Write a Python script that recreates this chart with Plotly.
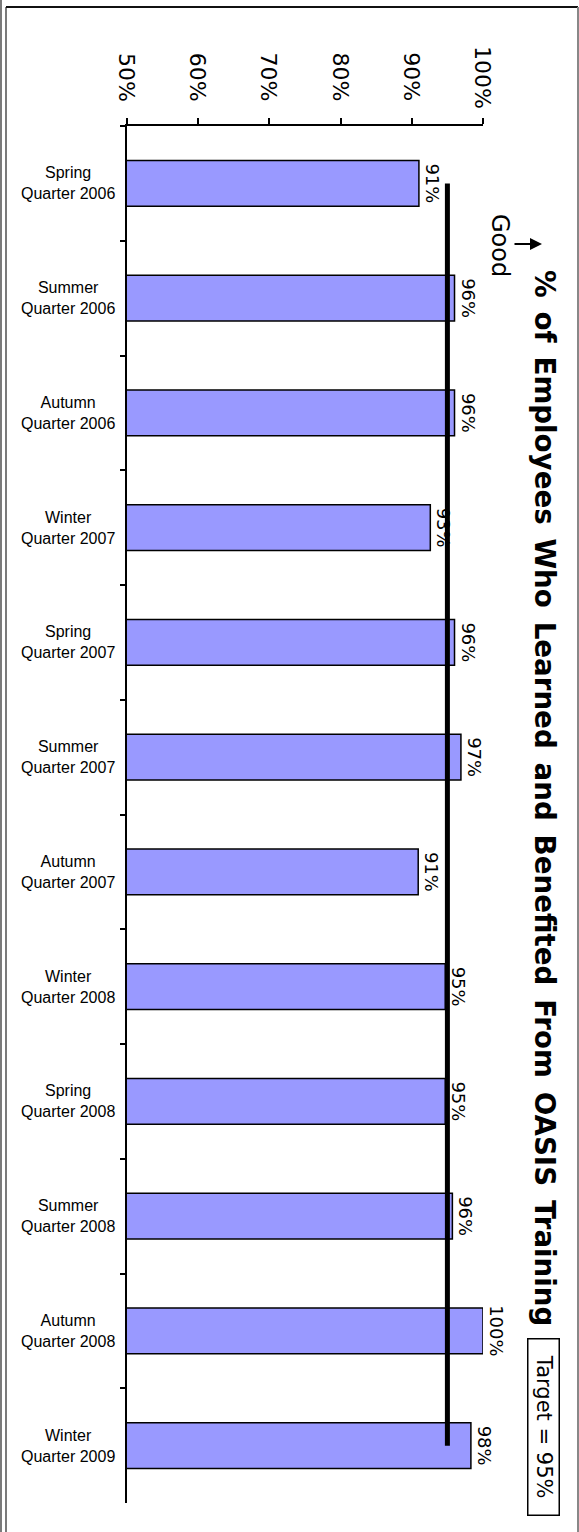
import plotly.graph_objects as go

# ---- data ----
quarters = ["Spring Quarter 2006", "Summer Quarter 2006", "Autumn Quarter 2006",
            "Winter Quarter 2007", "Spring Quarter 2007", "Summer Quarter 2007",
            "Autumn Quarter 2007", "Winter Quarter 2008", "Spring Quarter 2008",
            "Summer Quarter 2008", "Autumn Quarter 2008", "Winter Quarter 2009"]
values = [0.91, 0.96, 0.96, 0.926, 0.96, 0.969, 0.909, 0.947, 0.947, 0.957, 1.00, 0.983]
value_labels = ["91%", "96%", "96%", "93%", "96%", "97%", "91%", "95%", "95%", "96%", "100%", "98%"]
target = 0.95
axis_ticks = [0.5, 0.6, 0.7, 0.8, 0.9, 1.0]
axis_tick_labels = ["50%", "60%", "70%", "80%", "90%", "100%"]
title_text = "% of Employees Who Learned and Benefited From OASIS Training"
target_text = "Target = 95%"

# ---- layout geometry (pixels) ----
W, H = 579, 1532
L, R, T, B = 127, 96, 126, 29
PW, PH = W - L - R, H - T - B


def px(x):
    return (x - L) / PW


def py(y):
    return 1 - (y - T) / PH


fig = go.Figure()

fig.add_trace(go.Bar(
    y=quarters, x=values, orientation="h",
    marker=dict(color="#9999FF", line=dict(color="black", width=1.5)),
    text=value_labels, textposition="outside", textangle=90,
    textfont=dict(family="DejaVu Sans", size=18, color="black"),
    constraintext="none", cliponaxis=False, hoverinfo="skip",
))

fig.add_trace(go.Scatter(
    x=[target, target], y=[quarters[0], quarters[-1]], mode="lines",
    line=dict(color="black", width=5), cliponaxis=False, hoverinfo="skip",
))

annotations = []
# category labels (centered, two lines)
for q in quarters:
    annotations.append(dict(
        x=px(68), xref="paper", y=q, yref="y",
        text=q.replace(" Quarter", "<br>Quarter"), showarrow=False,
        xanchor="center", yanchor="middle", align="center",
        font=dict(family="Liberation Sans", size=16, color="black"),
    ))
# value axis tick labels (rotated, centred)
for v, lab in zip(axis_ticks, axis_tick_labels):
    annotations.append(dict(
        x=v, xref="x", y=py(77), yref="paper", text=lab, showarrow=False,
        textangle=90, xanchor="center", yanchor="middle",
        font=dict(family="DejaVu Sans", size=22, color="black"),
    ))
# title (slightly wider word spacing, as in the reference)
annotations.append(dict(
    x=px(545), xref="paper", y=py(798), yref="paper",
    text="<b>" + title_text.replace(" ", "\u2002") + "</b>", showarrow=False, textangle=90,
    xanchor="center", yanchor="middle",
    font=dict(family="DejaVu Sans", size=27.7, color="black"),
))
# Good + arrow
annotations.append(dict(
    x=px(500), xref="paper", y=py(245), yref="paper", text="Good",
    showarrow=False, textangle=90, xanchor="center", yanchor="middle",
    font=dict(family="DejaVu Sans", size=24, color="black"),
))
annotations.append(dict(
    x=px(542), xref="paper", y=py(244), yref="paper", text="",
    showarrow=True, ax=-29, ay=0, arrowhead=2, arrowsize=1.2, arrowwidth=2,
    arrowcolor="black",
))
# target box
annotations.append(dict(
    x=px(544), xref="paper", y=py(1427), yref="paper",
    text="\u00a0\u00a0" + target_text + "\u00a0\u00a0", showarrow=False, textangle=90,
    xanchor="center", yanchor="middle", bordercolor="black", borderwidth=1.5,
    borderpad=3, bgcolor="white",
    font=dict(family="DejaVu Sans", size=21, color="black"),
))

shapes = [
    # outer frame lines
    dict(type="line", xref="paper", yref="paper", x0=px(1), x1=px(1), y0=py(0), y1=py(H),
         line=dict(color="#222", width=1.2)),
    dict(type="line", xref="paper", yref="paper", x0=px(6), x1=px(6), y0=py(7), y1=py(H),
         line=dict(color="#222", width=1.2)),
    dict(type="line", xref="paper", yref="paper", x0=px(6), x1=px(578), y0=py(7), y1=py(7),
         line=dict(color="#111", width=2)),
    dict(type="line", xref="paper", yref="paper", x0=px(578), x1=px(578), y0=py(7), y1=py(H),
         line=dict(color="#888", width=2)),
]

fig.update_layout(
    width=W, height=H,
    margin=dict(l=L, r=R, t=T, b=B, pad=0),
    paper_bgcolor="white", plot_bgcolor="white",
    showlegend=False, bargap=0.6,
    annotations=annotations, shapes=shapes,
    xaxis=dict(side="top", range=[0.5, 1.0], tickvals=axis_ticks, showticklabels=False,
               ticks="outside", ticklen=6, tickwidth=1.5, tickcolor="black",
               showline=True, linecolor="black", linewidth=2,
               showgrid=False, zeroline=False, fixedrange=True),
    yaxis=dict(type="category", range=[len(quarters) - 0.5, -0.5], showticklabels=False,
               ticks="outside", tickson="boundaries", ticklen=5, tickwidth=1.5,
               tickcolor="black", showline=True, linecolor="black", linewidth=2,
               showgrid=False, zeroline=False, fixedrange=True),
)

fig.write_html("out.html", config={"displayModeBar": False})
